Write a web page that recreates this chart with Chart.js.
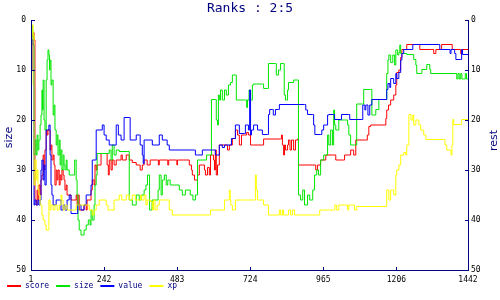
<!DOCTYPE html>
<html><head><meta charset="utf-8">
<script src="https://cdn.jsdelivr.net/npm/chart.js@4"></script>
<style>html,body{margin:0;padding:0;background:#fff}canvas{display:block}</style>
</head><body>
<canvas id="c" width="500" height="300"></canvas>
<script>
const chartTitle = 'Ranks : 2:5';
const leftTitle = 'size';
const rightTitle = 'rest';
const seriesNames = ['score', 'size', 'value', 'xp'];
const xTicks = [1, 242, 483, 724, 965, 1206, 1442];
const yTicks = [0, 10, 20, 30, 40, 50];

const scoreData = [[1,10],[4,3],[8,2.5],[11,4],[14,36],[18,37],[21,34],[24,36],[27,33],[31,35],[34,32],[37,31],[41,27],[44,30],[47,26],[51,22],[54,23],[57,22],[60,22],[64,26],[67,25],[70,28],[74,27],[77,29],[80,33],[84,30],[87,32],[90,30],[94,33],[97,31],[100,32],[103,30],[107,31],[110,32],[113,34],[117,33],[120,35],[127,35],[133,36],[143,36],[150,35],[153,37],[156,35],[160,38],[166,38],[176,37],[183,38],[186,36],[199,34],[203,32],[209,33],[212,29],[216,30],[219,29],[226,29],[232,26.7],[249,26.7],[252,29],[256,31],[259,28],[265,30],[269,28],[275,29],[282,28],[292,28],[298,27],[302,28],[308,28],[315,27],[325,28],[335,28.5],[348,29],[358,29],[361,30],[368,29],[374,28],[384,29],[394,28],[420,28],[421,29],[424,28],[450,28],[452,29],[455,28],[480,28],[482,29],[484,28],[503,28],[523,29],[530,30],[533,31],[540,32],[550,31],[556,29],[566,29],[573,30],[576,31],[583,29.5],[589,31],[593,27],[603,28],[606,30],[609,26],[612,31],[616,29],[622,25],[639,25],[649,26],[655,25],[665,23.7],[675,22],[682,23],[688,25],[695,23],[705,23],[712,22.5],[718,23],[725,25],[735,25],[764,25],[768,23.8],[824,23.8],[827,23],[830,25],[834,27],[837,25],[840,26],[847,25],[850,24],[855,26],[860,24],[867,26],[873,24],[880,23.8],[883,29],[930,29],[940,30],[946,29],[956,28],[973,27],[1000,27],[1006,28],[1029,28],[1035,27],[1045,27],[1055,26],[1065,27],[1072,24],[1105,24],[1110,23],[1115,21.3],[1121,21],[1165,21],[1171,19.7],[1174,18],[1180,17],[1187,16],[1197,15],[1204,13],[1207,10.5],[1214,10],[1220,7.5],[1224,5.9],[1240,4.9],[1280,4.9],[1283,5.9],[1319,5.9],[1329,6.7],[1336,5.9],[1352,5.9],[1355,4.9],[1386,4.9],[1390,5.9],[1416,5.9],[1418,6.7],[1422,5.9],[1442,5.9]];

const sizeData = [[1,3],[3,1],[5,2],[8,5],[11,27],[14,24],[18,27],[21,23],[24,26],[27,24],[31,21],[34,19],[37,14],[39,18],[41,12],[44,20],[47,22],[51,12],[54,8],[57,6],[60,7],[62,10],[64,8],[67,13],[70,12],[74,19],[77,17],[80,22],[84,25],[87,23],[90,27],[94,24],[97,29],[100,26],[103,30],[107,27],[110,29],[113,30],[117,28],[120,30],[127,31],[133,31],[140,31],[145,28],[150,32],[153,35],[156,40],[160,42],[166,43],[176,42],[183,41],[190,40],[196,41],[199,38],[203,40],[209,37],[212,33],[216,31],[219,26.7],[249,26.7],[259,26],[265,28],[269,25],[275,27],[282,26],[292,26.3],[320,26.3],[325,36],[335,37],[348,35],[358,36],[365,35],[374,34],[380,33],[385,31],[392,38],[400,36],[420,34],[424,31],[430,35],[434,32],[441,31],[447,33],[452,32],[460,33],[475,33],[490,34],[500,35],[510,34],[526,35],[535,36],[543,35],[550,28],[576,28],[580,27],[593,27],[596,15.9],[609,15.9],[612,20],[616,21],[619,15],[622,16],[626,14],[632,16],[639,14],[645,15],[652,13],[659,12.5],[665,11],[675,11],[678,16],[690,16],[705,16],[712,17.5],[715,16],[720,14],[725,16],[731,13],[735,12.8],[764,12.8],[768,13.7],[781,13.7],[784,8.7],[807,8.7],[810,11],[817,10],[824,8.7],[834,8.7],[836,15],[840,16],[847,14],[850,12.5],[867,12],[880,12],[883,35],[890,36],[897,34],[903,37],[913,35],[920,36],[930,34],[936,31],[943,30],[949,31],[956,28],[966,27],[973,27],[979,23],[983,25],[989,22],[995,25],[999,18],[1002,21],[1006,22],[1016,20],[1039,20],[1045,21],[1049,23],[1055,25],[1068,25],[1075,16.8],[1095,16.8],[1098,13.9],[1121,13.9],[1125,19],[1131,19],[1138,17.9],[1148,15.9],[1171,15.9],[1174,10.7],[1178,8],[1181,7],[1187,8.5],[1194,7],[1200,9],[1204,6],[1210,7],[1214,6.5],[1217,5],[1220,6.7],[1230,6.7],[1240,6.9],[1257,6.9],[1263,7.9],[1270,9],[1273,10.7],[1286,10.7],[1290,9.9],[1303,9.9],[1306,8.9],[1313,8.9],[1316,9.9],[1319,10.7],[1402,10.7],[1405,11.8],[1409,10.7],[1413,11.8],[1418,10.7],[1422,11.8],[1428,11.8],[1433,10.7],[1437,11.8],[1442,11.8]];

const valueData = [[1,10],[4,4],[8,5],[11,37],[14,36],[18,37],[24,36],[27,37],[31,36],[34,30],[37,28],[41,32],[44,29],[47,33],[51,22],[54,22],[60,21],[64,27],[67,33],[70,35],[74,37],[80,37],[84,36],[94,36],[100,38],[107,37],[113,38],[120,36],[127,35],[133,38.7],[150,38.7],[155,37],[160,37],[166,38],[176,37],[183,35],[193,35],[199,33],[203,28],[212,28],[216,22],[232,22],[236,21],[242,23],[249,24],[259,25],[275,25],[282,21],[289,23],[298,24],[308,19.5],[325,19.5],[328,24],[341,24],[348,23],[358,23],[361,25],[368,27],[371,28.7],[374,24],[394,24],[401,25],[407,25],[424,23],[434,24],[450,25],[457,26],[540,26],[543,27],[550,27],[566,26],[599,26],[609,27],[622,25],[632,25.5],[639,25],[659,25],[662,23.7],[672,23.7],[675,21],[688,22.7],[705,22.7],[708,21],[718,22],[722,14],[725,23],[728,22],[735,21],[748,22],[764,22.9],[781,22.9],[784,18.9],[788,17.9],[797,17.9],[800,19],[807,17.9],[817,17.9],[820,16.9],[903,16.9],[907,18],[913,18.9],[930,18.9],[933,21],[937,22.9],[956,22.9],[960,22],[966,21],[973,21],[979,19],[983,18.9],[999,18.9],[1002,19.9],[1022,19.9],[1025,18.9],[1049,18.9],[1052,19.9],[1092,19.9],[1095,17],[1102,18],[1105,17],[1108,17],[1112,19],[1118,17],[1125,15.9],[1171,15.9],[1174,13.9],[1178,12.7],[1184,13.5],[1187,11.7],[1197,12.7],[1204,10.7],[1207,11.7],[1214,10.5],[1220,8],[1224,6.7],[1230,5.9],[1257,5.9],[1260,4.9],[1346,4.9],[1349,5.9],[1379,5.9],[1383,6.7],[1386,5.9],[1395,5.9],[1398,6.7],[1402,7.9],[1418,7.9],[1421,5.9],[1424,6.9],[1442,6.9]];

const xpData = [[1,13],[4,1],[8,3],[11,33],[14,28],[18,32],[21,30],[24,34],[27,35],[31,37],[37,39],[41,40],[47,41],[51,42],[57,42],[60,36],[64,38],[67,37],[74,38],[80,37],[87,38],[94,37],[100,35],[103,36],[107,38],[113,37],[120,38],[143,38],[150,37],[186,37],[193,38],[203,39],[209,38],[216,37],[226,36],[242,36],[249,37],[255,38],[265,38],[275,36],[285,36],[292,35],[300,36],[315,35],[325,36],[335,35],[345,36],[358,36],[362,35],[366,36],[374,35],[380,37],[384,36],[394,36.3],[401,38],[405,36],[410,38],[417,37],[424,36],[450,36],[457,38],[467,39],[589,39],[593,38],[622,38],[639,36],[652,36],[655,34],[658,36],[660,37],[665,38],[672,38],[675,36],[735,36],[741,31],[744,34],[748,36],[764,36],[768,37],[784,39],[817,39],[820,38],[824,39],[830,38],[834,39],[847,39],[850,38],[857,39],[863,38],[870,39],[950,39],[953,38],[999,38],[1003,37],[1009,38],[1016,37],[1039,37],[1045,38],[1049,37],[1060,37],[1068,38],[1075,37.3],[1171,37.3],[1174,34],[1181,36],[1187,34],[1197,35],[1204,31],[1207,30],[1214,29],[1220,27],[1230,26.5],[1237,27],[1240,25],[1247,18.9],[1254,20],[1260,19],[1263,21],[1270,20],[1280,21],[1286,22],[1296,23],[1303,23.9],[1362,23.9],[1366,25],[1372,26],[1382,26],[1386,27],[1389,25],[1392,19.9],[1395,20.9],[1418,20.9],[1421,19.9],[1442,19.9]];

const NAVY = '#000080';
const seriesColors = ['#ff0000', '#00e600', '#0000ff', '#ffff00'];
const seriesData = [scoreData, sizeData, valueData, xpData];
const MONO = '"DejaVu Sans Mono", monospace';

const axesPlugin = {
  id: 'axesPlugin',
  afterLayout(chart) {
    // let the x tick labels extend below the (thin) x-scale box without clipping
    const s = chart.scales.x;
    s.bottom = chart.height;
  },
  afterDatasetsDraw(chart) {
    const {ctx, chartArea: a, scales} = chart;
    ctx.save();
    ctx.strokeStyle = NAVY;
    ctx.lineWidth = 1;
    ctx.beginPath();
    const L = a.left + 0.5, R = a.right + 0.5, B = Math.round(a.bottom) + 0.5;
    ctx.moveTo(L, a.top); ctx.lineTo(L, B + 0.5);
    ctx.moveTo(R, a.top); ctx.lineTo(R, B + 0.5);
    ctx.moveTo(L - 0.5, B); ctx.lineTo(R + 0.5, B);
    scales.y.ticks.forEach(t => {
      const py = Math.round(scales.y.getPixelForValue(t.value)) + 0.5;
      ctx.moveTo(L, py); ctx.lineTo(L + 3.5, py);
    });
    scales.y2.ticks.forEach(t => {
      const py = Math.round(scales.y2.getPixelForValue(t.value)) + 0.5;
      ctx.moveTo(R, py); ctx.lineTo(R - 3.5, py);
    });
    scales.x.ticks.forEach(t => {
      const px = Math.round(scales.x.getPixelForValue(t.value)) + 0.5;
      ctx.moveTo(px, B); ctx.lineTo(px, B - 3.5);
    });
    ctx.stroke();
    ctx.fillStyle = NAVY;
    ctx.font = '11px "DejaVu Sans", sans-serif';
    ctx.textAlign = 'center';
    ctx.textBaseline = 'middle';
    ctx.translate(9.5, 137.5);
    ctx.rotate(-Math.PI / 2);
    ctx.fillText(leftTitle, 0, 0);
    ctx.setTransform(1, 0, 0, 1, 0, 0);
    ctx.translate(494, 140.5);
    ctx.rotate(-Math.PI / 2);
    ctx.fillText(rightTitle, 0, 0);
    ctx.restore();
  }
};

const ySetup = (pos, width) => ({
  type: 'linear', position: pos, reverse: true, min: 0, max: 50,
  afterBuildTicks: s => { s.ticks = yTicks.map(v => ({value: v})); },
  afterFit: s => { s.width = width; },
  grid: {display: false, drawTicks: false},
  border: {display: false},
  ticks: {color: '#000', font: {family: MONO, size: 8}, padding: pos === 'left' ? 5 : 3}
});

new Chart(document.getElementById('c'), {
  type: 'line',
  data: {
    datasets: seriesNames.map((name, i) => ({
      label: name,
      data: seriesData[i].map(p => ({x: p[0], y: p[1]})),
      borderColor: seriesColors[i],
      backgroundColor: seriesColors[i],
      borderWidth: 1,
      stepped: true,
      pointRadius: 0,
      fill: false,
      yAxisID: 'y',
      order: 4 - i
    }))
  },
  options: {
    responsive: false,
    animation: false,
    devicePixelRatio: 1,
    layout: {padding: 0},
    scales: {
      x: {
        type: 'linear', min: 1, max: 1442,
        afterBuildTicks: s => { s.ticks = xTicks.map(v => ({value: v})); },
        afterFit: s => { s.height = 5; },
        grid: {display: false, drawTicks: false},
        border: {display: false},
        ticks: {color: '#000', font: {family: MONO, size: 8}, padding: 5, autoSkip: false, maxRotation: 0,
                callback: v => String(v)}
      },
      y: ySetup('left', 31),
      y2: ySetup('right', 32)
    },
    plugins: {
      title: {display: true, text: chartTitle, color: NAVY,
              font: {family: MONO, size: 13, weight: 'normal'}, padding: {top: 1, bottom: 3.4}},
      legend: {
        position: 'bottom', align: 'start',
        labels: {
          color: NAVY, font: {family: MONO, size: 8}, boxWidth: 14, boxHeight: 2, padding: 7,
          sort: (a, b) => a.datasetIndex - b.datasetIndex,
          generateLabels: chart => Chart.defaults.plugins.legend.labels.generateLabels(chart)
            .map(l => Object.assign(l, {lineWidth: 0, fillStyle: seriesColors[l.datasetIndex]}))
        }
      },
      tooltip: {enabled: false}
    }
  },
  plugins: [axesPlugin]
});
</script>
</body></html>
